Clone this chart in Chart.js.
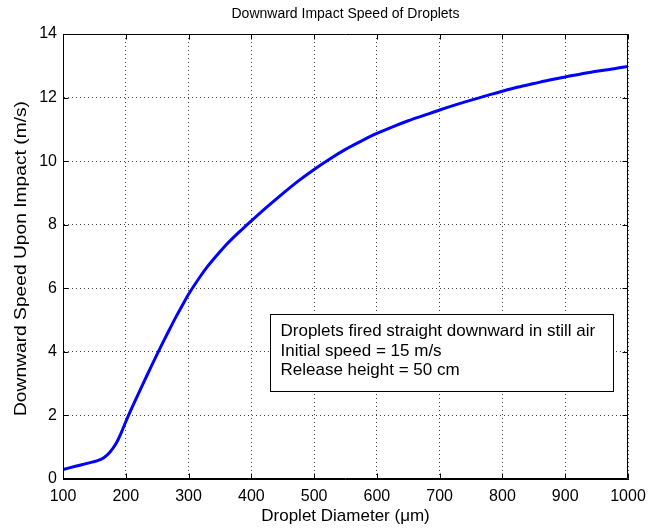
<!DOCTYPE html>
<html>
<head>
<meta charset="utf-8">
<script src="https://cdn.jsdelivr.net/npm/chart.js@4.4.1/dist/chart.umd.min.js"></script>
<style>
  html, body { margin: 0; padding: 0; background: #ffffff; }
  #wrap { width: 649px; height: 530px; }
</style>
</head>
<body>
<div id="wrap"><canvas id="c" width="649" height="530"></canvas></div>
<script>
// ---- data ----
const diameters = [100, 120, 140, 155, 165, 175, 185, 192, 200, 210, 220, 230, 240, 250, 260, 270, 280, 290, 300, 310, 320, 330, 340, 350, 360, 370, 380, 390, 400, 425, 450, 475, 500, 525, 550, 575, 600, 625, 650, 675, 700, 725, 750, 775, 800, 825, 850, 875, 900, 925, 950, 975, 1000];
const speeds    = [0.30, 0.40, 0.50, 0.58, 0.67, 0.85, 1.13, 1.42, 1.80, 2.25, 2.68, 3.10, 3.52, 3.93, 4.33, 4.72, 5.10, 5.46, 5.81, 6.12, 6.41, 6.68, 6.92, 7.15, 7.37, 7.57, 7.76, 7.94, 8.12, 8.56, 8.98, 9.38, 9.74, 10.07, 10.37, 10.63, 10.87, 11.08, 11.27, 11.44, 11.61, 11.77, 11.92, 12.06, 12.20, 12.33, 12.44, 12.55, 12.65, 12.74, 12.83, 12.90, 12.98];
const xTicks = [100, 200, 300, 400, 500, 600, 700, 800, 900, 1000];
const yTicks = [0, 2, 4, 6, 8, 10, 12, 14];
const chartTitle = 'Downward Impact Speed of Droplets';
const xLabel = 'Droplet Diameter (\u03BCm)';
const yLabel = 'Downward Speed Upon Impact (m/s)';
const noteLines = ['Droplets fired straight downward in still air', 'Initial speed = 15 m/s', 'Release height = 50 cm'];
// note box corners in data units
const noteBoxX = [430, 976];
const noteBoxY = [5.19, 2.77];

const FONT = "'Liberation Sans', Arial, Helvetica, sans-serif";

const framePlugin = {
  id: 'frame',
  afterDatasetsDraw(chart) {
    const {ctx, chartArea: a, scales} = chart;
    const xs = scales.x, ys = scales.y;
    // title, centred over the plot area
    ctx.save();
    ctx.fillStyle = '#000000';
    ctx.font = '14px ' + FONT;
    ctx.textAlign = 'center';
    ctx.textBaseline = 'middle';
    ctx.fillText(chartTitle, (a.left + a.right) / 2, 14);
    ctx.restore();

    // y-axis label (rotated)
    ctx.save();
    ctx.fillStyle = '#000000';
    ctx.font = '17px ' + FONT;
    ctx.textAlign = 'center';
    ctx.textBaseline = 'middle';
    const w = ctx.measureText(yLabel).width;
    ctx.translate(21, (a.top + a.bottom) / 2 + 2);
    ctx.rotate(-Math.PI / 2);
    ctx.scale(315 / w, 1);
    ctx.fillText(yLabel, 0, 0);
    ctx.restore();

    // note box
    const bx0 = Math.round(xs.getPixelForValue(noteBoxX[0])) + 0.5;
    const bx1 = Math.round(xs.getPixelForValue(noteBoxX[1])) + 0.5;
    const by0 = Math.round(ys.getPixelForValue(noteBoxY[0])) + 0.5;
    const by1 = Math.round(ys.getPixelForValue(noteBoxY[1])) + 0.5;
    ctx.save();
    ctx.fillStyle = '#ffffff';
    ctx.fillRect(bx0, by0, bx1 - bx0, by1 - by0);
    ctx.strokeStyle = '#000000';
    ctx.lineWidth = 1;
    ctx.strokeRect(bx0, by0, bx1 - bx0, by1 - by0);
    ctx.fillStyle = '#000000';
    ctx.font = '17px ' + FONT;
    ctx.textBaseline = 'middle';
    ctx.textAlign = 'left';
    noteLines.forEach((t, i) => {
      ctx.fillText(t, bx0 + 10, by0 + 17 + i * 19.5);
    });
    ctx.restore();

    // frame and inward ticks
    const L = Math.round(a.left) + 0.5, R = Math.round(a.right) - 0.5;
    const T = Math.round(a.top) + 0.5, B = Math.round(a.bottom) - 0.5;
    ctx.save();
    ctx.strokeStyle = '#000000';
    ctx.lineWidth = 1;
    ctx.beginPath();
    ctx.rect(L, T, R - L, B - T);
    const tl = 5;
    xTicks.forEach(v => {
      const px = Math.round(xs.getPixelForValue(v)) + 0.5;
      ctx.moveTo(px, B); ctx.lineTo(px, B - tl);
      ctx.moveTo(px, T); ctx.lineTo(px, T + tl);
    });
    yTicks.forEach(v => {
      const py = Math.round(ys.getPixelForValue(v)) + 0.5;
      ctx.moveTo(L, py); ctx.lineTo(L + tl, py);
      ctx.moveTo(R, py); ctx.lineTo(R - tl, py);
    });
    ctx.stroke();
    ctx.restore();
  }
};

new Chart(document.getElementById('c'), {
  type: 'line',
  data: {
    datasets: [{
      data: diameters.map((d, i) => ({x: d, y: speeds[i]})),
      borderColor: '#0000ff',
      borderWidth: 3,
      pointRadius: 0,
      fill: false,
      cubicInterpolationMode: 'monotone'
    }]
  },
  options: {
    responsive: false,
    animation: false,
    devicePixelRatio: 1,
    layout: { padding: { top: 34, right: 21, bottom: 0, left: 0 } },
    plugins: {
      legend: { display: false },
      tooltip: { enabled: false },
      title: { display: false }
    },
    scales: {
      x: {
        type: 'linear',
        min: 100, max: 1000,
        afterBuildTicks(scale) { scale.ticks = xTicks.map(v => ({value: v})); },
        afterFit(scale) { scale.height = 51; scale.paddingLeft = 0; scale.paddingRight = 0; },
        ticks: {
          color: '#000000',
          font: { family: FONT, size: 16 },
          padding: 8,
          maxRotation: 0,
          autoSkip: false,
          callback: v => String(v)
        },
        grid: {
          color: 'rgba(0,0,0,0.75)',
          lineWidth: 1,
          drawTicks: false
        },
        border: { display: true, color: '#000000', width: 1, dash: [1, 3] },
        title: {
          display: true,
          text: xLabel,
          color: '#000000',
          font: { family: FONT, size: 17 },
          padding: { top: 0, bottom: 3 }
        }
      },
      y: {
        type: 'linear',
        min: 0, max: 14,
        afterBuildTicks(scale) { scale.ticks = yTicks.map(v => ({value: v})); },
        afterFit(scale) { scale.width = 63; scale.paddingTop = 0; scale.paddingBottom = 0; },
        ticks: {
          color: '#000000',
          font: { family: FONT, size: 16 },
          padding: 6,
          autoSkip: false,
          callback: v => String(v)
        },
        grid: {
          color: 'rgba(0,0,0,0.75)',
          lineWidth: 1,
          drawTicks: false
        },
        border: { display: true, color: '#000000', width: 1, dash: [1, 3] },
        title: { display: false }
      }
    }
  },
  plugins: [framePlugin]
});
</script>
</body>
</html>
